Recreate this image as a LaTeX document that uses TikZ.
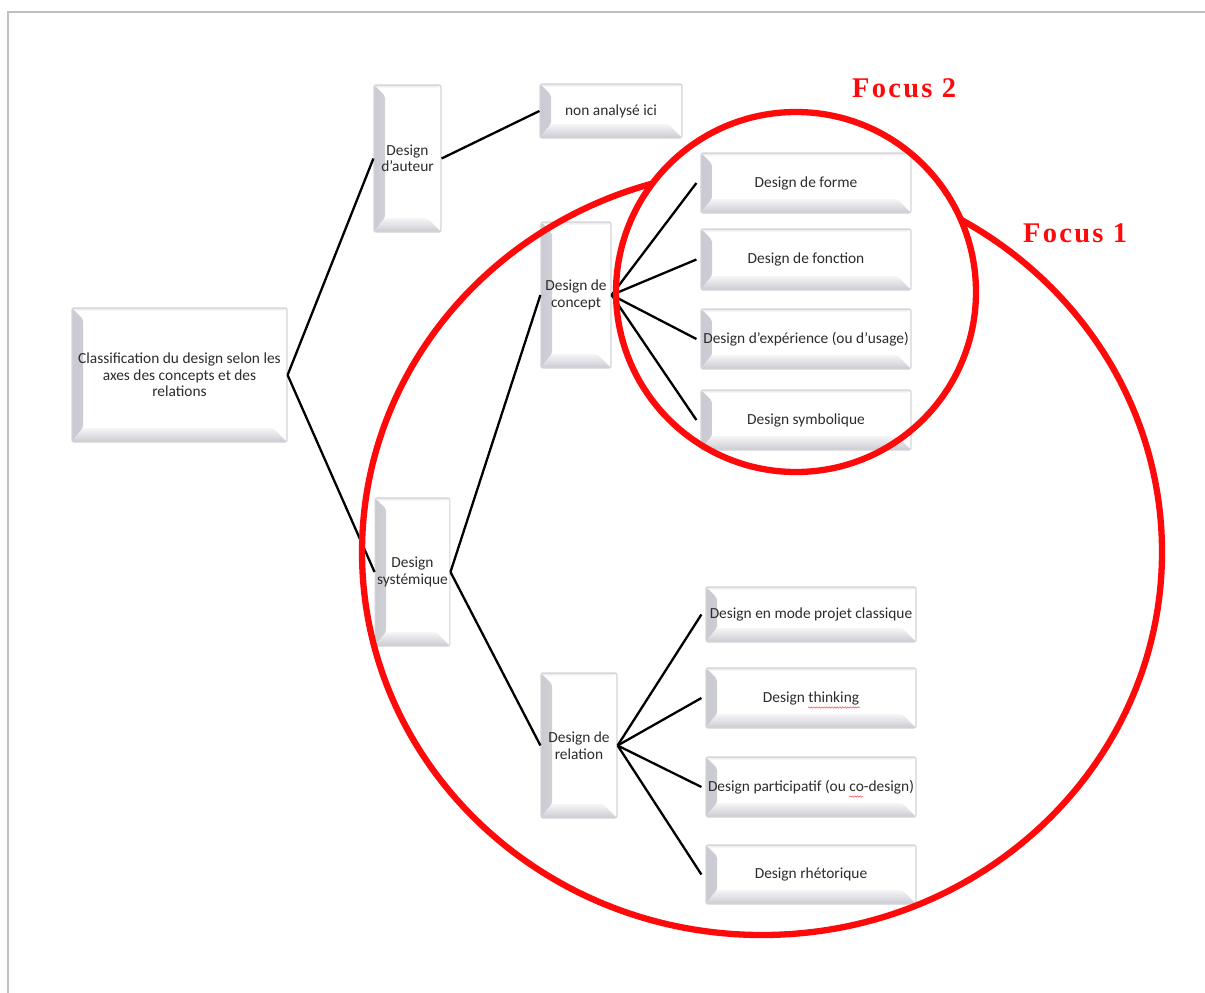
\documentclass[tikz,border=0pt]{standalone}
\usepackage{fontspec}
\setmainfont{Carlito}
\newfontfamily\focusfont[LetterSpace=8]{Liberation Serif}
\usetikzlibrary{calc,decorations.pathmorphing}

\definecolor{txt}{HTML}{2C2C2C}
\definecolor{boxedge}{HTML}{D4D4D8}
\definecolor{bevgray}{HTML}{CACAD2}
\definecolor{bevlight}{HTML}{F6F6F8}
\definecolor{focusred}{HTML}{FF0A0A}
\definecolor{framegray}{HTML}{C0C0C0}

\tikzset{
  bevbox/.style={
    draw=boxedge, line width=1.2pt, rounded corners=2pt, fill=white,
    align=center, text=txt, inner sep=2pt,
    font=\fontsize{15.4}{16.5}\selectfont,
    path picture={
      % left bevel wedge
      \fill[left color=bevgray, right color=bevlight]
        (path picture bounding box.north west) -- ++(11pt,-11pt)
        -- ($(path picture bounding box.south west)+(11pt,14pt)$)
        -- (path picture bounding box.south west) -- cycle;
      % bottom bevel band
      \fill[top color=bevlight, bottom color=bevgray]
        (path picture bounding box.south west) -- ++(11pt,14pt)
        -- ($(path picture bounding box.south east)+(-14pt,14pt)$)
        -- (path picture bounding box.south east) -- cycle;
      % thin top highlight
      \fill[top color=boxedge!60, bottom color=white]
        (path picture bounding box.north west) -- (path picture bounding box.north east)
        -- ++(-3pt,-3pt) -- ($(path picture bounding box.north west)+(3pt,-3pt)$) -- cycle;
    }},
  conn/.style={line width=2.3pt, black},
  focusline/.style={draw=focusred, line width=6.3pt},
  focuslabel/.style={text=focusred, inner sep=0pt,
    font=\focusfont\bfseries\fontsize{28.5}{30}\selectfont},
  spellwave/.style={red!70, line width=0.5pt,
    decorate, decoration={snake, segment length=2.6pt, amplitude=0.7pt}},
}

\begin{document}
\begin{tikzpicture}[x=1pt, y=-1pt]
  \useasboundingbox (0,0) rectangle (1205,993);
  \fill[white] (0,0) rectangle (1205,993);

  % page frame
  \draw[framegray, line width=2.5pt] (8,993) -- (8,12) -- (1205,12);

  % boxes
  \node[bevbox, minimum width=215pt, minimum height=134pt] (root) at (179.5,375)
    {Classification du design selon les\\axes des concepts et des\\relations};
  \node[bevbox, minimum width=67pt, minimum height=147pt] (auteur) at (407.5,158.5)
    {Design\\d’auteur};
  \node[bevbox, minimum width=142pt, minimum height=54pt] (nonan) at (611,111)
    {non analysé ici};
  \node[bevbox, minimum width=70pt, minimum height=146pt] (concept) at (576,295)
    {Design de\\concept};
  \node[bevbox, minimum width=73pt, minimum height=148pt] (syst) at (412.5,572)
    {Design\\systémique};
  \node[bevbox, minimum width=76pt, minimum height=145pt] (relation) at (579,745.5)
    {Design de\\relation};

  \node[bevbox, minimum width=210pt, minimum height=60pt] (forme) at (806,183)
    {Design de forme};
  \node[bevbox, minimum width=210pt, minimum height=61pt] (fonction) at (806,259.5)
    {Design de fonction};
  \node[bevbox, minimum width=210pt, minimum height=60pt] (exp) at (806,339)
    {Design d’expérience (ou d’usage)};
  \node[bevbox, minimum width=210pt, minimum height=60pt] (symb) at (806,420)
    {Design symbolique};

  \node[bevbox, minimum width=210pt, minimum height=55pt] (projet) at (811,614.5)
    {Design en mode projet classique};
  \node[bevbox, minimum width=210pt, minimum height=60pt] (thinking) at (811,698)
    {Design thinking};
  \node[bevbox, minimum width=210pt, minimum height=60pt] (partic) at (811,787)
    {Design participatif (ou co-design)};
  \node[bevbox, minimum width=210pt, minimum height=59pt] (rhet) at (811,874.5)
    {Design rhétorique};

  % spell-checker squiggles under "thinking" and "co"
  \draw[spellwave] ($(thinking.center)+(-3,9.5)$) -- ($(thinking.center)+(49,9.5)$);
  \draw[spellwave] ($(partic.center)+(38,9.5)$) -- ($(partic.center)+(52,9.5)$);

  % connectors
  \draw[conn] (root.east) -- (auteur.west);
  \draw[conn] (root.east) -- (syst.west);
  \draw[conn] (auteur.east) -- (nonan.west);
  \draw[conn] (syst.east) -- (concept.west);
  \draw[conn] (syst.east) -- (relation.west);
  \foreach \c in {forme,fonction,exp,symb}
    \draw[conn] (concept.east) -- ([xshift=-4pt]\c.west);
  \foreach \c in {projet,thinking,partic,rhet}
    \draw[conn] (relation.east) -- ([xshift=-4pt]\c.west);

  % Focus 1: large ellipse, kept outside the Focus 2 circle
  \begin{scope}
    \clip (0,0) -- (0,993) -- (1205,993) -- (1205,0) -- cycle
          (796,292) circle[radius=180];
    \draw[focusline] (762,552) ellipse[x radius=400, y radius=383];
  \end{scope}
  % Focus 2: circle
  \draw[focusline] (796,292) circle[radius=180];

  \node[focuslabel, anchor=base west] (f2) at (852,97) {Focus 2};
  \node[focuslabel, anchor=base west] (f1) at (1023,242) {Focus 1};
\end{tikzpicture}
\end{document}
